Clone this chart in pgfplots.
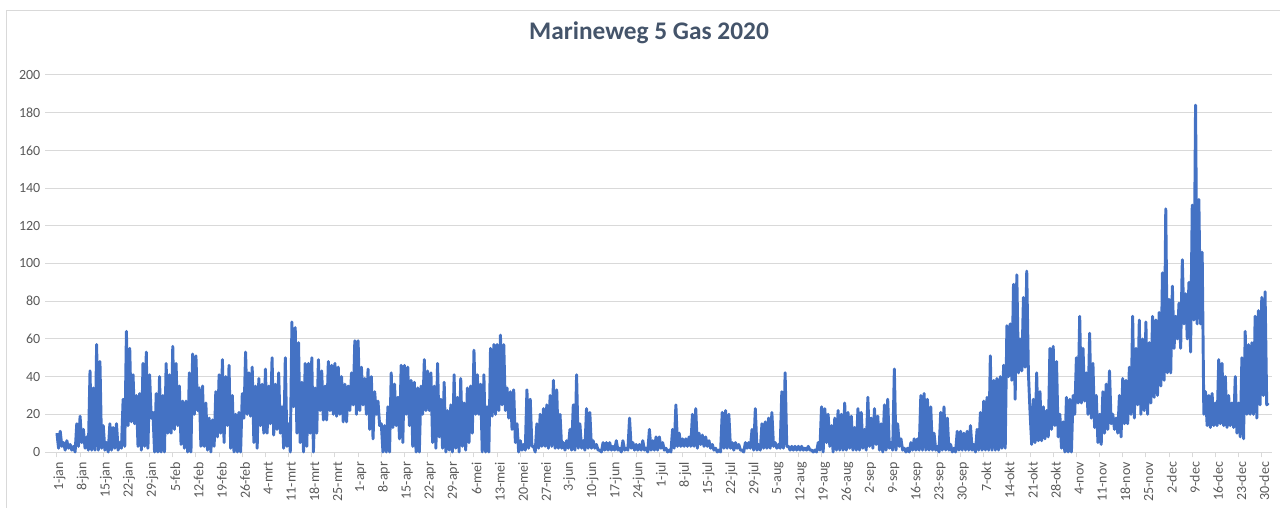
\documentclass[border=0pt]{standalone}
\usepackage{fontspec}
\setmainfont{Carlito}
\usepackage{pgfplots}
\pgfplotsset{compat=1.18}
\definecolor{serie}{HTML}{4472C4}
\definecolor{gridgray}{HTML}{D9D9D9}
\definecolor{txtgray}{HTML}{595959}
\definecolor{titleslate}{HTML}{44546A}

\begin{document}
\begin{tikzpicture}
\useasboundingbox (-33.75pt,-41.25pt) rectangle (926.25pt,339pt);
\draw[gridgray, line width=0.75pt] (-28.5pt,-45pt) -- (-28.5pt,330.75pt) -- (930pt,330.75pt);
\begin{axis}[
  at={(0,0)}, anchor=south west,
  scale only axis,
  width=920pt, height=282.75pt,
  xmin=-3.6, xmax=367,
  ymin=0, ymax=200,
  ytick={0,20,...,200},
  xtick={0,7,...,364},
  xticklabels={1-jan,8-jan,15-jan,22-jan,29-jan,5-feb,12-feb,19-feb,26-feb,4-mrt,11-mrt,18-mrt,25-mrt,1-apr,8-apr,15-apr,22-apr,29-apr,6-mei,13-mei,20-mei,27-mei,3-jun,10-jun,17-jun,24-jun,1-jul,8-jul,15-jul,22-jul,29-jul,5-aug,12-aug,19-aug,26-aug,2-sep,9-sep,16-sep,23-sep,30-sep,7-okt,14-okt,21-okt,28-okt,4-nov,11-nov,18-nov,25-nov,2-dec,9-dec,16-dec,23-dec,30-dec},
  axis x line*=bottom, axis y line*=left,
  x axis line style={gridgray, line width=0.75pt, -},
  y axis line style={draw=none},
  ymajorgrids,
  grid style={gridgray, line width=0.75pt},
  xtick align=outside,
  major tick length=4pt,
  xtick style={gridgray, line width=0.75pt},
  ytick style={draw=none},
  tick label style={font=\fontsize{10.5}{12}\selectfont, text=txtgray},
  /pgf/number format/assume math mode=true,
  xticklabel style={rotate=90, anchor=east, yshift=-2pt},
  title={Marineweg 5 Gas 2020},
  title style={at={(0.5,1)}, anchor=center, yshift=26pt, xshift=-7pt,
    font=\bfseries\fontsize{19}{22}\selectfont, text=titleslate},
  clip=false,
]
\addplot[serie, line width=2.2pt, line join=round, no markers] coordinates {
(0,10)(0.5,2)(1,11)(1.5,3)(2,5)(2.5,1)(3,6)(3.5,2)(4,4)(4.5,1)(5,3)(5.5,0)(6,15)(6.5,3)
(7,19)(7.5,5)(8,12)(8.5,2)(9,8)(9.5,1)(10,43)(10.5,1)(11,34)(11.5,1)(12,57)(12.5,1)(13,48)(13.5,2)
(14,14)(14.5,1)(15,5)(15.5,0)(16,15)(16.5,1)(17,13)(17.5,2)(18,15)(18.5,1)(19,5)(19.5,2)(20,28)(20.5,3)
(21,64)(21.5,14)(22,55)(22.5,16)(23,41)(23.5,15)(24,30)(24.5,3)(25,31)(25.5,1)(26,47)(26.5,3)(27,53)(27.5,2)
(28,41)(28.5,18)(29,21)(29.5,0)(30,31)(30.5,0)(31,40)(31.5,0)(32,30)(32.5,0)(33,47)(33.5,10)(34,41)(34.5,10)
(35,56)(35.5,12)(36,47)(36.5,14)(37,35)(37.5,4)(38,27)(38.5,2)(39,27)(39.5,0)(40,42)(40.5,0)(41,52)(41.5,20)
(42,51)(42.5,22)(43,34)(43.5,3)(44,35)(44.5,3)(45,26)(45.5,1)(46,18)(46.5,0)(47,17)(47.5,3)(48,32)(48.5,8)
(49,41)(49.5,10)(50,49)(50.5,5)(51,40)(51.5,14)(52,46)(52.5,2)(53,30)(53.5,0)(54,20)(54.5,0)(55,21)(55.5,0)
(56,31)(56.5,18)(57,53)(57.5,20)(58,42)(58.5,19)(59,45)(59.5,5)(60,35)(60.5,2)(61,39)(61.5,14)(62,36)(62.5,10)
(63,44)(63.5,10)(64,35)(64.5,15)(65,50)(65.5,9)(66,36)(66.5,12)(67,42)(67.5,10)(68,24)(68.5,2)(69,50)(69.5,3)
(70,15)(70.5,0)(71,69)(71.5,24)(72,66)(72.5,10)(73,58)(73.5,5)(74,37)(74.5,0)(75,47)(75.5,3)(76,47)(76.5,10)
(77,50)(77.5,0)(78,34)(78.5,10)(79,49)(79.5,22)(80,43)(80.5,17)(81,35)(81.5,17)(82,48)(82.5,22)(83,46)(83.5,20)
(84,47)(84.5,19)(85,45)(85.5,20)(86,40)(86.5,16)(87,36)(87.5,16)(88,35)(88.5,22)(89,42)(89.5,25)(90,59)(90.5,20)
(91,59)(91.5,22)(92,45)(92.5,25)(93,39)(93.5,20)(94,44)(94.5,12)(95,40)(95.5,7)(96,32)(96.5,20)(97,27)(97.5,14)
(98,15)(98.5,0)(99,14)(99.5,0)(100,24)(100.5,0)(101,42)(101.5,13)(102,36)(102.5,14)(103,29)(103.5,7)(104,46)(104.5,5)
(105,46)(105.5,20)(106,45)(106.5,14)(107,38)(107.5,3)(108,37)(108.5,0)(109,34)(109.5,0)(110,35)(110.5,20)(111,49)(111.5,22)
(112,43)(112.5,22)(113,42)(113.5,5)(114,35)(114.5,2)(115,47)(115.5,8)(116,28)(116.5,2)(117,37)(117.5,0)(118,22)(118.5,1)
(119,25)(119.5,0)(120,41)(120.5,2)(121,29)(121.5,0)(122,39)(122.5,3)(123,26)(123.5,1)(124,34)(124.5,5)(125,35)(125.5,10)
(126,54)(126.5,20)(127,41)(127.5,20)(128,36)(128.5,0)(129,41)(129.5,0)(130,24)(130.5,0)(131,55)(131.5,19)(132,57)(132.5,20)
(133,57)(133.5,22)(134,62)(134.5,25)(135,57)(135.5,22)(136,34)(136.5,18)(137,32)(137.5,12)(138,33)(138.5,5)(139,15)(139.5,0)
(140,6)(140.5,1)(141,4)(141.5,1)(142,33)(142.5,2)(143,28)(143.5,3)(144,3)(144.5,0)(145,15)(145.5,2)(146,20)(146.5,3)
(147,23)(147.5,3)(148,25)(148.5,2)(149,30)(149.5,3)(150,38)(150.5,2)(151,33)(151.5,2)(152,20)(152.5,2)(153,5)(153.5,1)
(154,6)(154.5,2)(155,12)(155.5,1)(156,25)(156.5,1)(157,41)(157.5,2)(158,15)(158.5,2)(159,6)(159.5,1)(160,23)(160.5,2)
(161,21)(161.5,2)(162,6)(162.5,2)(163,4)(163.5,1)(164,1)(164.5,0)(165,5)(165.5,1)(166,5)(166.5,1)(167,5)(167.5,1)
(168,3)(168.5,1)(169,6)(169.5,1)(170,2)(170.5,0)(171,6)(171.5,1)(172,2)(172.5,1)(173,18)(173.5,2)(174,5)(174.5,1)
(175,4)(175.5,1)(176,4)(176.5,1)(177,6)(177.5,1)(178,2)(178.5,0)(179,12)(179.5,1)(180,6)(180.5,1)(181,8)(181.5,1)
(182,8)(182.5,2)(183,5)(183.5,1)(184,2)(184.5,0)(185,1)(185.5,0)(186,12)(186.5,2)(187,25)(187.5,3)(188,10)(188.5,3)
(189,7)(189.5,3)(190,7)(190.5,3)(191,8)(191.5,3)(192,20)(192.5,3)(193,23)(193.5,2)(194,10)(194.5,4)(195,9)(195.5,3)
(196,8)(196.5,3)(197,6)(197.5,2)(198,4)(198.5,1)(199,2)(199.5,0)(200,1)(200.5,0)(201,21)(201.5,2)(202,22)(202.5,2)
(203,20)(203.5,2)(204,5)(204.5,1)(205,5)(205.5,2)(206,4)(206.5,1)(207,1)(207.5,0)(208,5)(208.5,2)(209,5)(209.5,2)
(210,12)(210.5,1)(211,23)(211.5,1)(212,4)(212.5,1)(213,15)(213.5,2)(214,16)(214.5,2)(215,18)(215.5,2)(216,21)(216.5,3)
(217,5)(217.5,2)(218,4)(218.5,2)(219,32)(219.5,2)(220,42)(220.5,3)(221,3)(221.5,1)(222,3)(222.5,1)(223,3)(223.5,1)
(224,3)(224.5,1)(225,3)(225.5,1)(226,2)(226.5,1)(227,3)(227.5,1)(228,1)(228.5,0)(229,1)(229.5,0)(230,5)(230.5,1)
(231,24)(231.5,0)(232,23)(232.5,5)(233,20)(233.5,3)(234,14)(234.5,0)(235,18)(235.5,1)(236,22)(236.5,1)(237,20)(237.5,1)
(238,26)(238.5,1)(239,21)(239.5,2)(240,19)(240.5,1)(241,13)(241.5,1)(242,23)(242.5,1)(243,21)(243.5,2)(244,12)(244.5,1)
(245,29)(245.5,3)(246,18)(246.5,2)(247,23)(247.5,4)(248,19)(248.5,1)(249,15)(249.5,0)(250,25)(250.5,1)(251,28)(251.5,2)
(252,5)(252.5,1)(253,44)(253.5,1)(254,15)(254.5,3)(255,7)(255.5,1)(256,2)(256.5,0)(257,2)(257.5,0)(258,5)(258.5,1)
(259,7)(259.5,1)(260,7)(260.5,1)(261,30)(261.5,1)(262,31)(262.5,1)(263,28)(263.5,1)(264,24)(264.5,1)(265,10)(265.5,1)
(266,3)(266.5,0)(267,21)(267.5,1)(268,24)(268.5,1)(269,18)(269.5,1)(270,4)(270.5,0)(271,2)(271.5,0)(272,11)(272.5,1)
(273,11)(273.5,1)(274,10)(274.5,1)(275,11)(275.5,1)(276,14)(276.5,1)(277,4)(277.5,0)(278,12)(278.5,1)(279,21)(279.5,1)
(280,27)(280.5,1)(281,29)(281.5,1)(282,51)(282.5,1)(283,38)(283.5,1)(284,39)(284.5,1)(285,40)(285.5,2)(286,46)(286.5,2)
(287,67)(287.5,40)(288,68)(288.5,38)(289,89)(289.5,28)(290,94)(290.5,42)(291,60)(291.5,43)(292,82)(292.5,45)(293,96)(293.5,42)
(294,21)(294.5,4)(295,28)(295.5,5)(296,42)(296.5,6)(297,32)(297.5,6)(298,24)(298.5,7)(299,22)(299.5,8)(300,55)(300.5,12)
(301,56)(301.5,14)(302,48)(302.5,8)(303,20)(303.5,2)(304,16)(304.5,0)(305,29)(305.5,0)(306,28)(306.5,0)(307,30)(307.5,20)
(308,50)(308.5,26)(309,72)(309.5,26)(310,55)(310.5,27)(311,42)(311.5,20)(312,63)(312.5,18)(313,47)(313.5,13)(314,30)(314.5,5)
(315,20)(315.5,4)(316,32)(316.5,10)(317,36)(317.5,12)(318,43)(318.5,15)(319,20)(319.5,12)(320,18)(320.5,10)(321,30)(321.5,8)
(322,39)(322.5,15)(323,38)(323.5,15)(324,45)(324.5,20)(325,72)(325.5,18)(326,55)(326.5,25)(327,70)(327.5,20)(328,60)(328.5,22)
(329,69)(329.5,20)(330,58)(330.5,26)(331,72)(331.5,29)(332,70)(332.5,30)(333,74)(333.5,35)(334,95)(334.5,38)(335,129)(335.5,42)
(336,81)(336.5,42)(337,88)(337.5,55)(338,72)(338.5,60)(339,79)(339.5,55)(340,102)(340.5,68)(341,84)(341.5,60)(342,90)(342.5,53)
(343,131)(343.5,70)(344,184)(344.5,68)(345,134)(345.5,68)(346,106)(346.5,20)(347,32)(347.5,14)(348,30)(348.5,13)(349,31)(349.5,14)
(350,26)(350.5,14)(351,49)(351.5,15)(352,47)(352.5,14)(353,40)(353.5,13)(354,30)(354.5,14)(355,26)(355.5,13)(356,40)(356.5,10)
(357,26)(357.5,8)(358,50)(358.5,7)(359,64)(359.5,20)(360,57)(360.5,20)(361,58)(361.5,20)(362,72)(362.5,18)(363,75)(363.5,25)
(364,82)(364.5,30)(365,85)(365.5,25)(366,26)
};
\end{axis}
\end{tikzpicture}
\end{document}
